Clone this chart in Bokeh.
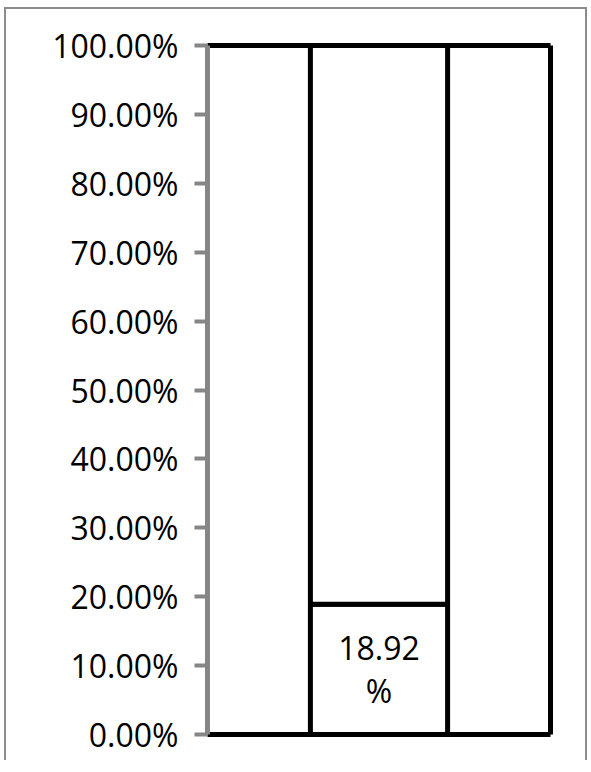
from bokeh.plotting import figure
from bokeh.models import (FactorRange, Range1d, NumeralTickFormatter, FixedTicker,
                          LinearAxis, CategoricalAxis, ColumnDataSource)
from bokeh.core.properties import value
from bokeh.embed import file_html
from bokeh.resources import INLINE

# ---- data ----
categories = ["Series"]
share_low = [0.1892]
share_high = [0.8108]
y_ticks = [0.0, 0.1, 0.2, 0.3, 0.4, 0.5, 0.6, 0.7, 0.8, 0.9, 1.0]

FONT = "Open Sans"

low_top = [v for v in share_low]
high_top = [a + b for a, b in zip(share_low, share_high)]
src = ColumnDataSource(dict(
    cat=categories,
    low_bottom=[0.0] * len(categories),
    low_top=low_top,
    high_top=high_top,
    label_y=[v / 2 for v in share_low],
    label=[f"{v * 100:.2f}\n%" for v in share_low],
))

p = figure(
    x_range=FactorRange(factors=categories, range_padding=0.0),
    y_range=Range1d(0, 1),
    width=583, height=753,
    output_backend="svg", toolbar_location=None,
    min_border_left=201, min_border_right=39,
    min_border_top=36, min_border_bottom=28,
)
p.styles = {"position": "relative", "left": "4px", "top": "7px",
            "border-left": "2px solid #8c8c8c",
            "border-top": "2px solid #8c8c8c",
            "border-right": "2px solid #8c8c8c"}
p.outline_line_color = None
p.xgrid.visible = False
p.ygrid.visible = False
p.background_fill_color = "white"
p.border_fill_color = "white"

# stacked bar segments
p.vbar(x="cat", bottom="low_bottom", top="low_top", width=0.4, source=src,
       fill_color="white", line_color="black", line_width=5)
p.vbar(x="cat", bottom="low_top", top="high_top", width=0.4, source=src,
       fill_color="white", line_color="black", line_width=5)

p.text(x="cat", y="label_y", text="label", source=src,
       text_font=value(FONT), text_font_size="32px", text_color="black",
       text_align="center", text_baseline="middle", text_line_height=1.0)

# below axis: plain black line
xa = p.xaxis[0]
xa.axis_line_color = "black"
xa.axis_line_width = 5
xa.major_tick_line_color = None
xa.minor_tick_line_color = None
xa.major_label_text_font_size = "0px"
xa.major_label_text_color = None

# left axis: gray with percentage labels
ya = p.yaxis[0]
ya.ticker = FixedTicker(ticks=y_ticks)
ya.formatter = NumeralTickFormatter(format="0.00%")
ya.axis_line_color = "#868686"
ya.axis_line_width = 5
ya.major_tick_line_color = "#868686"
ya.major_tick_line_width = 4
ya.major_tick_out = 13
ya.major_tick_in = 0
ya.minor_tick_line_color = None
ya.major_label_standoff = 16
ya.major_label_text_font = FONT
ya.major_label_text_font_size = "32px"
ya.major_label_text_color = "black"

# top and right: black frame lines
top_axis = CategoricalAxis(axis_line_color="black", axis_line_width=5,
                           major_tick_line_color=None, minor_tick_line_color=None,
                           major_label_text_color=None, major_label_text_font_size="0px")
p.add_layout(top_axis, "above")
right_axis = LinearAxis(ticker=FixedTicker(ticks=[]), axis_line_color="black", axis_line_width=5,
                        major_tick_line_color=None, minor_tick_line_color=None,
                        major_label_text_color=None)
p.add_layout(right_axis, "right")

open("out.html", "w").write(file_html(p, INLINE))
